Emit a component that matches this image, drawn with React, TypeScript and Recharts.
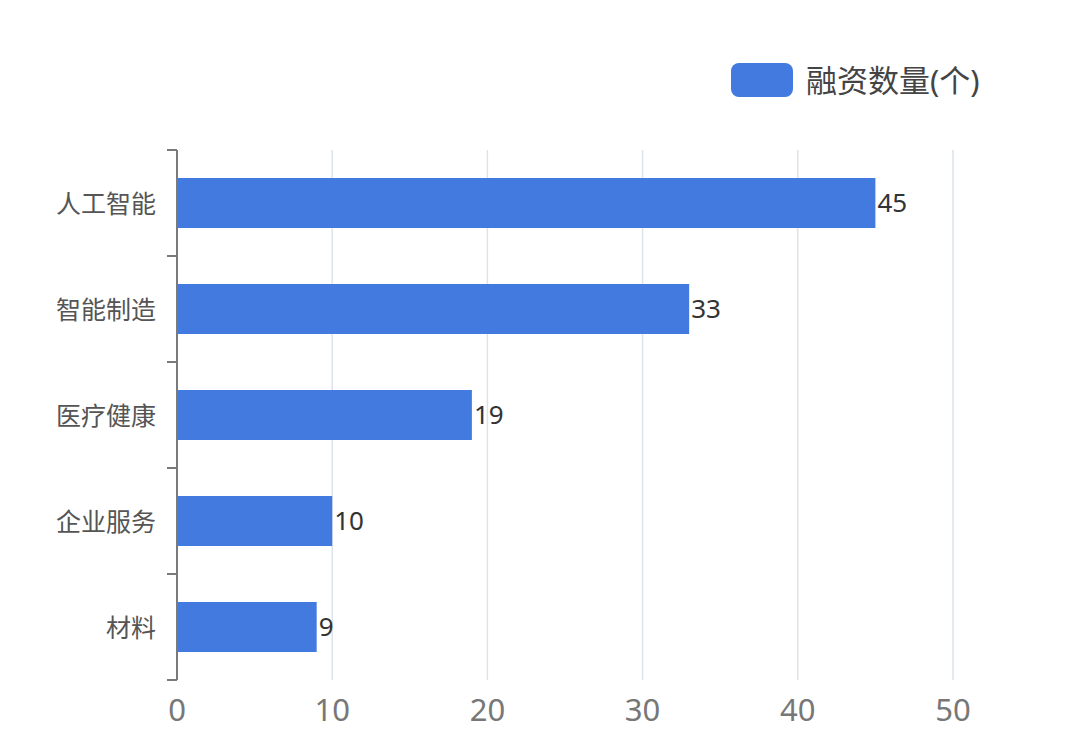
import { Bar, BarChart, CartesianGrid, LabelList, XAxis, YAxis } from "recharts";

const categories = ["人工智能", "智能制造", "医疗健康", "企业服务", "材料"];
const counts = [45, 33, 19, 10, 9];
const xTicks = [0, 10, 20, 30, 40, 50];
const seriesName = "融资数量(个)";

const data = categories.map((name, i) => ({ name, value: counts[i] }));

const W = 1080;
const H = 753;
const TOP = 150;
const BOTTOM = 680;
const band = (BOTTOM - TOP) / categories.length;
const FONT = '"Noto Sans", "Noto Sans CJK SC", sans-serif';
const AXIS = "#7a7a7a";
const BLUE = "#437ae0";

function CategoryTick(props: any) {
  const { x, y, payload } = props;
  return (
    <g>
      <line x1={x - 10} x2={x} y1={y - band / 2} y2={y - band / 2} stroke={AXIS} strokeWidth={2} />
      <line x1={x - 10} x2={x} y1={y + band / 2} y2={y + band / 2} stroke={AXIS} strokeWidth={2} />
      <text
        x={x - 21}
        y={y}
        textAnchor="end"
        dominantBaseline="central"
        fontSize={25}
        fill="#555"
        fontFamily={FONT}
      >
        {payload.value}
      </text>
    </g>
  );
}

export default function App() {
  return (
    <div style={{ position: "absolute", left: 0, top: 0, width: W, height: H, background: "#fff" }}>
      <div
        style={{
          position: "absolute",
          left: 731,
          top: 63,
          display: "flex",
          alignItems: "center",
          fontFamily: FONT,
          zIndex: 2,
        }}
      >
        <div style={{ width: 62, height: 34, borderRadius: 8, background: BLUE }} />
        <span style={{ marginLeft: 13, fontSize: 31, color: "#444", lineHeight: "34px" }}>{seriesName}</span>
      </div>
      <BarChart
        width={W}
        height={H}
        data={data}
        layout="vertical"
        margin={{ top: TOP, right: W - 953, bottom: 23, left: 0 }}
      >
        <CartesianGrid horizontal={false} stroke="#dde3e8" strokeWidth={1.5} />
        <XAxis
          type="number"
          domain={[0, 50]}
          ticks={xTicks}
          axisLine={false}
          tickLine={false}
          tickSize={0}
          tickMargin={19}
          height={H - 23 - BOTTOM}
          tick={{ fontSize: 31, fill: "#777", fontFamily: FONT }}
        />
        <YAxis
          type="category"
          dataKey="name"
          width={177}
          axisLine={{ stroke: AXIS, strokeWidth: 2 }}
          tickLine={false}
          tickSize={0}
          tickMargin={0}
          tick={<CategoryTick />}
        />
        <Bar dataKey="value" name={seriesName} fill={BLUE} barSize={50} isAnimationActive={false}>
          <LabelList
            dataKey="value"
            position="right"
            offset={2}
            fill="#333"
            fontSize={26}
            fontFamily={FONT}
          />
        </Bar>
      </BarChart>
    </div>
  );
}
